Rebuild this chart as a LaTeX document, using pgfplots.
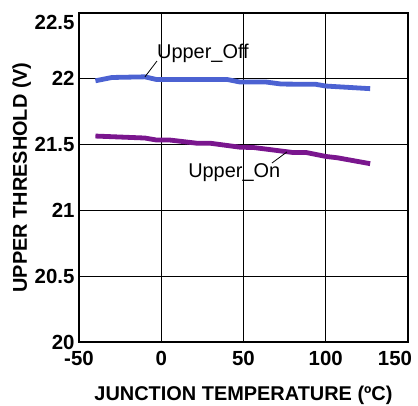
\documentclass[border=0pt]{standalone}
\usepackage{fontspec}
\setmainfont{Liberation Sans}
\usepackage{pgfplots}
\pgfplotsset{compat=1.18}
\definecolor{offblue}{HTML}{4C62D2}
\definecolor{onpurple}{HTML}{7A168E}
\begin{document}
\begin{tikzpicture}
\begin{axis}[
  at={(0,0)}, anchor=south west,
  scale only axis, width=329bp, height=329bp,
  xmin=-50, xmax=150, ymin=20, ymax=22.5,
  xtick={-50,0,50,100}, ytick={20,20.5,21,21.5,22},
  extra x ticks={150}, extra y ticks={22.5},
  extra x tick style={xticklabel style={xshift=-13bp}},
  extra y tick style={yticklabel style={yshift=-9bp}},
  grid=major, major grid style={black, line width=0.9pt},
  axis line style={black, line width=1.3pt},
  tick style={draw=none},
  /pgf/number format/assume math mode=true,
  ticklabel style={font=\fontsize{20.5}{20.5}\selectfont\bfseries},
  xticklabel style={yshift=-6bp},
  yticklabel style={xshift=-1bp},
  xlabel={JUNCTION TEMPERATURE (ºC)},
  ylabel={UPPER THRESHOLD (V)},
  label style={font=\fontsize{20}{20}\selectfont\bfseries},
  xlabel style={yshift=-13bp},
  ylabel style={yshift=-3bp},
  clip=false,
]
\addplot[offblue, line width=4.8bp, line join=round] coordinates {
(-40,21.985) (-30,22.01) (-10,22.015) (-3,21.995) (40,21.995) (48,21.975)
(64,21.975) (73,21.96) (94,21.958) (100,21.945) (127,21.925)};
\addplot[onpurple, line width=4.8bp, line join=round] coordinates {
(-40,21.565) (-10,21.55) (-3,21.535) (5,21.535) (22,21.51) (30,21.51)
(48,21.48) (56,21.478) (80,21.44) (88,21.44) (100,21.41) (107,21.40) (127,21.355)};
\draw[black, line width=0.8pt] (axis cs:-9.9,22.015) -- (axis cs:-2.6,22.135);
\node[anchor=west, inner sep=0pt, font=\fontsize{20}{20}\selectfont] at (axis cs:-2.6,22.196) {Upper\_Off};
\draw[black, line width=0.8pt] (axis cs:67.3,21.36) -- (axis cs:76.4,21.444);
\node[anchor=west, inner sep=0pt, font=\fontsize{20}{20}\selectfont] at (axis cs:16.3,21.29) {Upper\_On};
\end{axis}
\pgfresetboundingbox
\path[use as bounding box] (-79bp,-64bp) rectangle (339bp,342bp);
\end{tikzpicture}
\end{document}
